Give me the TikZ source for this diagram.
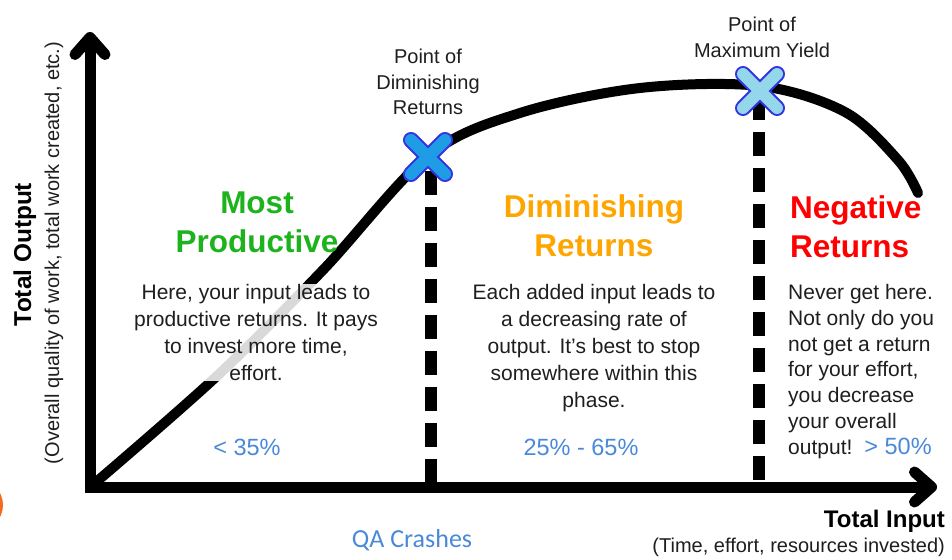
\documentclass[tikz,border=0pt]{standalone}
\usepackage{fontspec}
\setmainfont{Liberation Sans}
\newfontfamily\qafont{Carlito}
\usepackage{tikz}
\usetikzlibrary{arrows.meta}
\definecolor{prodgreen}{HTML}{1DB31D}
\definecolor{dimorange}{HTML}{FFA500}
\definecolor{negred}{HTML}{FF0000}
\definecolor{pctblue}{HTML}{4A89D8}
\definecolor{markblue}{HTML}{1E9DE6}
\definecolor{marklight}{HTML}{94D6EA}
\definecolor{markedge}{HTML}{3434E0}
\definecolor{bodygray}{HTML}{1E1E1E}
\definecolor{dotorange}{HTML}{F26B21}
\tikzset{axis/.style={line width=11pt, -{Straight Barb[round,length=17pt,width=30pt]}}}
\tikzset{phase/.style={line width=12pt, dash pattern=on 24pt off 12pt}}
\tikzset{yield/.style={line width=10pt, line cap=round, line join=round}}
\tikzset{head/.style={align=center, inner sep=0pt, font=\fontsize{31.5}{39}\selectfont\bfseries}}
\tikzset{body/.style={align=center, inner sep=0pt, text=bodygray, font=\fontsize{21}{27}\selectfont}}
\tikzset{tag/.style={align=center, inner sep=0pt, text=bodygray, font=\fontsize{20}{25.5}\selectfont}}
\tikzset{pct/.style={inner sep=0pt, text=pctblue, font=\fontsize{23.5}{27}\selectfont}}
% a cross with a blue rim, #1 = name of the centre, #2 = fill colour
\newcommand{\crossmark}[2]{%
  \draw[markedge, line width=16pt, line cap=round]
    ([shift={(-17,-17)}]#1) -- ([shift={(17,17)}]#1)
    ([shift={(-17,17)}]#1) -- ([shift={(17,-17)}]#1);
  \draw[#2, line width=12pt, line cap=round]
    ([shift={(-17,-17)}]#1) -- ([shift={(17,17)}]#1)
    ([shift={(-17,17)}]#1) -- ([shift={(17,-17)}]#1);
}

\begin{document}
\begin{tikzpicture}[x=1pt, y=-1pt]
\useasboundingbox (0,0) rectangle (952,559);

\fill[dotorange] (-22.5,505) circle [radius=25.5];

\coordinate (origin) at (90,493);
\coordinate (xstart) at (84.5,487);
\coordinate (xtip) at (937,487);
\coordinate (ytip) at (90,32);
\coordinate (dimpt) at (428,157);
\coordinate (maxpt) at (760,91);
\coordinate (dimtop) at (431,171);
\coordinate (dimfoot) at (431,484);
\coordinate (maxtop) at (759,96);
\coordinate (maxfoot) at (759,484);

% phase borders
\draw[phase] (dimtop) -- (dimfoot);
\draw[phase] (maxtop) -- (maxfoot);

% output curve
\draw[yield] plot[smooth, tension=0.55] coordinates {
  (95,483) (217,376) (323,270) (428,156) (520,113) (640,88)
  (760,86) (845,112) (898,160) (918,193)};

% axes
\draw[axis] (origin) -- (ytip);
\draw[axis] (xstart) -- (xtip);

% axis titles
\node[rotate=90, anchor=base, inner sep=0pt, font=\fontsize{24.4}{28}\selectfont\bfseries]
  (ytitle) at (31,254.5) {Total Output};
\node[rotate=90, anchor=base, inner sep=0pt, text=bodygray, font=\fontsize{20}{24}\selectfont]
  (ysub) at (59,253) {(Overall quality of work, total work created, etc.)};
\node[anchor=base east, inner sep=0pt, font=\fontsize{24}{28}\selectfont\bfseries]
  (xtitle) at (945,527) {Total Input};
\node[anchor=base east, inner sep=0pt, text=bodygray, font=\fontsize{20}{24}\selectfont]
  (xsub) at (945,552) {(Time, effort, resources invested)};

% phase headings
\node[head, text=prodgreen, anchor=north] (mosthead) at (257,192) {Most\\Productive};
\node[head, text=dimorange, anchor=north] (dimhead) at (594,194) {Diminishing\\Returns};
\node[head, text=negred, anchor=north west, align=left] (neghead) at (790,195) {Negative\\Returns};

% phase texts
\node[body, anchor=north, fill=white, fill opacity=.85, text opacity=1] (mosttext) at (256,284)
  {Here, your input leads to\\productive returns. It pays\\to invest more time,\\effort.};
\node[body, anchor=north] (dimtext) at (594,284)
  {Each added input leads to\\a decreasing rate of\\output. It’s best to stop\\somewhere within this\\phase.};
\node[body, anchor=north west, align=left, font=\fontsize{21}{25.8}\selectfont] (negtext) at (788,284)
  {Never get here.\\Not only do you\\not get a return\\for your effort,\\you decrease\\your overall\\output!\hspace{12pt}{\fontsize{23.5}{25.8}\selectfont\textcolor{pctblue}{> 50\%}}};

% shares
\node[pct, anchor=base] (mostpct) at (247,455) {< 35\%};
\node[pct, anchor=base] (dimpct) at (581,455) {25\% - 65\%};
\node[anchor=base, inner sep=0pt, text=pctblue, font=\qafont\fontsize{26}{30}\selectfont]
  (crash) at (412,547) {QA Crashes};

% turning points
\node[tag, anchor=north] (dimtag) at (428,49) {Point of\\Diminishing\\Returns};
\node[tag, anchor=north] (maxtag) at (762,17) {Point of\\Maximum Yield};
\crossmark{dimpt}{markblue}
\crossmark{maxpt}{marklight}

\end{tikzpicture}
\end{document}
